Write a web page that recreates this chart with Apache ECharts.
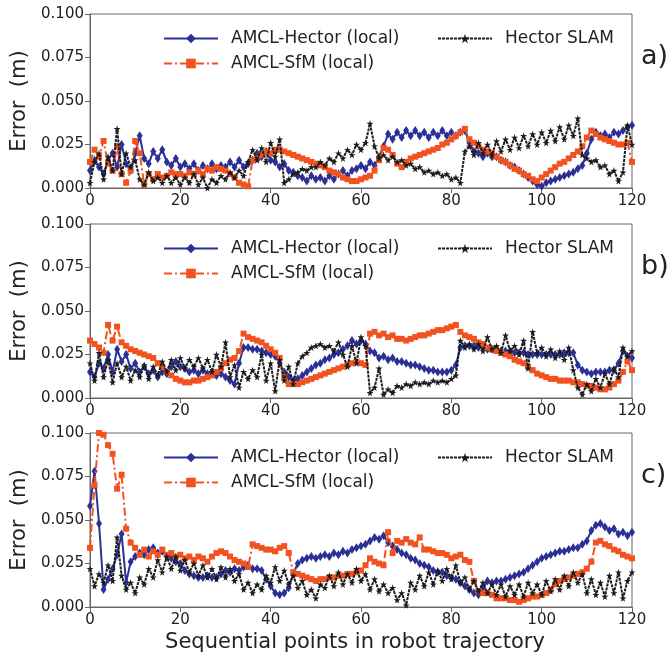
<!DOCTYPE html>
<html><head><meta charset="utf-8">
<script src="https://cdn.jsdelivr.net/npm/echarts@6/dist/echarts.min.js"></script>
<style>html,body{margin:0;padding:0;background:#fff}#c{width:670px;height:657px}</style>
</head><body><div id="c"></div>
<script>
// ---- data (x = sequential point index 0..120) ----
const seriesNames = ['AMCL-Hector (local)', 'AMCL-SfM (local)', 'Hector SLAM'];
const panelLabels = ['a)', 'b)', 'c)'];
const xTicks = [0, 20, 40, 60, 80, 100, 120];
const yTicks = [0.000, 0.025, 0.050, 0.075, 0.100];

const blueA = [0.010,0.016,0.012,0.008,0.016,0.020,0.012,0.025,0.014,0.010,0.020,0.030,0.017,0.014,0.021,0.017,0.022,0.015,0.013,0.017,
0.012,0.014,0.011,0.014,0.010,0.013,0.011,0.014,0.011,0.013,0.012,0.015,0.012,0.016,0.012,0.014,0.016,0.020,0.018,0.021,
0.016,0.015,0.012,0.014,0.010,0.009,0.007,0.006,0.004,0.007,0.005,0.006,0.004,0.007,0.005,0.008,0.010,0.007,0.010,0.011,
0.013,0.011,0.015,0.013,0.018,0.024,0.031,0.028,0.032,0.029,0.033,0.030,0.033,0.030,0.032,0.029,0.032,0.030,0.033,0.030,
0.032,0.030,0.032,0.033,0.026,0.021,0.020,0.018,0.020,0.018,0.018,0.016,0.015,0.013,0.012,0.010,0.008,0.006,0.004,0.002,
0.001,0.003,0.004,0.005,0.006,0.007,0.008,0.009,0.011,0.013,0.020,0.028,0.032,0.030,0.031,0.029,0.032,0.031,0.033,0.035,0.036];
const sfmA = [0.015,0.022,0.018,0.027,0.014,0.010,0.024,0.008,0.003,0.010,0.027,0.020,0.002,0.008,0.005,0.008,0.006,0.007,0.009,0.008,
0.008,0.007,0.009,0.008,0.010,0.008,0.011,0.010,0.012,0.011,0.010,0.008,0.006,0.003,0.002,0.001,0.016,0.017,0.019,0.021,
0.020,0.022,0.022,0.021,0.020,0.019,0.018,0.017,0.016,0.015,0.014,0.013,0.012,0.010,0.009,0.008,0.006,0.005,0.004,0.004,
0.005,0.006,0.007,0.010,0.016,0.023,0.022,0.019,0.014,0.012,0.015,0.017,0.018,0.019,0.020,0.021,0.022,0.023,0.025,0.026,
0.028,0.030,0.032,0.034,0.028,0.026,0.024,0.022,0.021,0.020,0.018,0.016,0.015,0.013,0.011,0.010,0.008,0.007,0.005,0.004,
0.006,0.008,0.010,0.012,0.014,0.015,0.017,0.019,0.021,0.024,0.029,0.033,0.031,0.029,0.028,0.027,0.026,0.025,0.025,0.026,0.015];
const slamA = [0.003,0.015,0.020,0.005,0.018,0.010,0.034,0.008,0.020,0.012,0.016,0.005,0.002,0.009,0.004,0.006,0.003,0.007,0.003,0.006,
0.002,0.006,0.003,0.008,0.002,0.006,0.000,0.005,0.003,0.007,0.005,0.009,0.006,0.010,0.007,0.015,0.022,0.016,0.023,0.015,
0.026,0.018,0.028,0.003,0.005,0.008,0.009,0.011,0.010,0.012,0.012,0.015,0.013,0.017,0.015,0.020,0.017,0.022,0.019,0.025,
0.022,0.026,0.037,0.024,0.017,0.019,0.016,0.018,0.015,0.016,0.013,0.014,0.011,0.012,0.009,0.010,0.008,0.009,0.007,0.008,
0.005,0.006,0.003,0.021,0.024,0.019,0.026,0.020,0.025,0.019,0.027,0.021,0.028,0.022,0.029,0.023,0.030,0.024,0.031,0.025,
0.032,0.026,0.033,0.027,0.035,0.028,0.036,0.030,0.040,0.019,0.017,0.015,0.016,0.012,0.013,0.008,0.010,0.004,0.009,0.036,0.025];

const blueB = [0.015,0.012,0.020,0.017,0.025,0.015,0.028,0.021,0.025,0.017,0.020,0.015,0.018,0.014,0.016,0.012,0.015,0.014,0.018,0.021,
0.018,0.017,0.015,0.016,0.014,0.016,0.014,0.015,0.013,0.014,0.012,0.010,0.008,0.020,0.029,0.029,0.028,0.028,0.027,0.026,
0.025,0.024,0.020,0.015,0.012,0.010,0.011,0.013,0.015,0.017,0.019,0.020,0.022,0.023,0.025,0.026,0.028,0.030,0.033,0.031,
0.033,0.031,0.027,0.026,0.023,0.024,0.022,0.023,0.021,0.021,0.020,0.019,0.019,0.018,0.017,0.016,0.016,0.015,0.015,0.015,
0.016,0.019,0.029,0.030,0.030,0.030,0.029,0.029,0.028,0.028,0.028,0.027,0.027,0.027,0.026,0.026,0.026,0.025,0.025,0.025,
0.025,0.025,0.025,0.025,0.025,0.026,0.026,0.026,0.019,0.016,0.015,0.014,0.015,0.015,0.015,0.016,0.016,0.020,0.027,0.024,0.023];
const sfmB = [0.033,0.031,0.029,0.026,0.042,0.033,0.041,0.032,0.030,0.028,0.027,0.026,0.025,0.024,0.023,0.020,0.018,0.015,0.013,0.011,
0.010,0.009,0.009,0.010,0.010,0.011,0.012,0.013,0.015,0.017,0.020,0.022,0.023,0.027,0.037,0.035,0.034,0.033,0.032,0.030,
0.028,0.026,0.023,0.012,0.008,0.008,0.008,0.009,0.010,0.011,0.012,0.013,0.014,0.015,0.016,0.017,0.018,0.019,0.020,0.021,
0.020,0.019,0.037,0.038,0.036,0.037,0.035,0.036,0.034,0.034,0.033,0.034,0.035,0.036,0.036,0.037,0.038,0.039,0.039,0.040,
0.041,0.042,0.038,0.036,0.035,0.034,0.032,0.031,0.029,0.028,0.027,0.026,0.025,0.024,0.022,0.021,0.020,0.018,0.016,0.014,
0.013,0.012,0.011,0.011,0.010,0.010,0.010,0.009,0.009,0.008,0.007,0.007,0.006,0.005,0.005,0.006,0.008,0.010,0.015,0.021,0.016];
const slamB = [0.020,0.010,0.026,0.012,0.022,0.009,0.020,0.012,0.018,0.010,0.016,0.012,0.019,0.011,0.018,0.013,0.021,0.015,0.022,0.016,
0.023,0.017,0.022,0.018,0.023,0.017,0.022,0.015,0.025,0.018,0.032,0.012,0.019,0.006,0.015,0.011,0.016,0.012,0.025,0.010,
0.020,0.004,0.022,0.010,0.018,0.008,0.020,0.024,0.026,0.029,0.030,0.031,0.029,0.030,0.027,0.032,0.025,0.018,0.030,0.020,
0.035,0.030,0.003,0.006,0.017,0.002,0.005,0.003,0.007,0.006,0.008,0.007,0.009,0.008,0.009,0.008,0.010,0.009,0.010,0.009,
0.011,0.013,0.033,0.029,0.031,0.028,0.031,0.027,0.035,0.028,0.030,0.026,0.036,0.027,0.030,0.025,0.033,0.017,0.038,0.026,
0.029,0.024,0.028,0.023,0.027,0.022,0.029,0.016,0.006,0.002,0.008,0.004,0.011,0.006,0.014,0.008,0.017,0.012,0.029,0.024,0.027];

const blueC = [0.058,0.078,0.048,0.010,0.016,0.022,0.030,0.042,0.014,0.026,0.029,0.031,0.030,0.033,0.034,0.031,0.032,0.029,0.028,0.026,
0.025,0.021,0.019,0.018,0.017,0.017,0.018,0.017,0.017,0.019,0.021,0.020,0.022,0.021,0.023,0.024,0.022,0.022,0.021,0.016,
0.012,0.008,0.007,0.008,0.011,0.019,0.025,0.027,0.028,0.029,0.028,0.029,0.030,0.029,0.031,0.030,0.032,0.031,0.033,0.034,
0.035,0.036,0.038,0.040,0.039,0.041,0.037,0.035,0.033,0.031,0.030,0.028,0.027,0.025,0.024,0.023,0.021,0.020,0.020,0.018,
0.017,0.016,0.014,0.012,0.010,0.008,0.007,0.011,0.015,0.014,0.015,0.015,0.016,0.017,0.018,0.019,0.020,0.022,0.024,0.026,
0.028,0.029,0.030,0.031,0.032,0.032,0.033,0.034,0.034,0.036,0.038,0.044,0.047,0.048,0.046,0.044,0.045,0.042,0.043,0.041,0.043];
const sfmC = [0.034,0.070,0.100,0.099,0.093,0.088,0.068,0.076,0.045,0.037,0.034,0.030,0.033,0.029,0.032,0.030,0.033,0.030,0.031,0.029,
0.030,0.028,0.029,0.027,0.029,0.028,0.026,0.029,0.031,0.032,0.031,0.029,0.027,0.026,0.025,0.023,0.036,0.035,0.034,0.033,
0.033,0.032,0.034,0.035,0.031,0.020,0.019,0.018,0.017,0.016,0.015,0.016,0.016,0.017,0.017,0.018,0.018,0.019,0.019,0.020,
0.021,0.024,0.028,0.026,0.025,0.024,0.043,0.031,0.038,0.037,0.039,0.037,0.036,0.040,0.033,0.033,0.032,0.031,0.031,0.030,
0.028,0.029,0.030,0.027,0.026,0.015,0.009,0.008,0.008,0.007,0.005,0.005,0.005,0.004,0.004,0.003,0.004,0.005,0.006,0.006,
0.007,0.008,0.010,0.013,0.015,0.016,0.017,0.018,0.019,0.020,0.022,0.026,0.037,0.038,0.036,0.035,0.033,0.032,0.030,0.029,0.028];
const slamC = [0.022,0.012,0.019,0.014,0.024,0.015,0.040,0.018,0.010,0.014,0.008,0.017,0.013,0.022,0.017,0.027,0.020,0.029,0.022,0.029,
0.021,0.027,0.020,0.025,0.018,0.024,0.017,0.022,0.016,0.023,0.017,0.022,0.015,0.019,0.010,0.014,0.008,0.013,0.010,0.018,
0.014,0.023,0.015,0.021,0.013,0.018,0.011,0.015,0.007,0.010,0.005,0.013,0.011,0.018,0.012,0.020,0.013,0.019,0.014,0.022,
0.015,0.019,0.010,0.016,0.009,0.013,0.008,0.011,0.004,0.008,0.001,0.014,0.010,0.018,0.012,0.020,0.013,0.021,0.015,0.022,
0.016,0.024,0.014,0.017,0.010,0.015,0.009,0.014,0.008,0.013,0.007,0.013,0.006,0.012,0.007,0.013,0.006,0.014,0.008,0.013,
0.007,0.015,0.009,0.016,0.010,0.018,0.012,0.020,0.014,0.019,0.008,0.016,0.007,0.014,0.006,0.018,0.008,0.020,0.005,0.015,0.020];

const panels = [[blueA, sfmA, slamA], [blueB, sfmB, slamB], [blueC, sfmC, slamC]];

// ---- styles ----
const FONT = 'DejaVu Sans';
const colors = ['#2b3096', '#f2521f', '#1c1c1c'];
const STAR = 'path://M50,0 L61,35 L98,35 L68,57 L79,91 L50,70 L21,91 L32,57 L2,35 L39,35 Z';
const symbols = ['diamond', 'rect', STAR];
const symSizes = [[6, 9], 6, 7];
const lineTypes = ['solid', [8, 3, 2, 3], [3, 1]];
const lineWidths = [2, 2, 2];

const grids = [], xAxes = [], yAxes = [], series = [], legends = [], graphics = [];
const tops = [14, 224, 433];
const H = 174;
for (let p = 0; p < 3; p++) {
  grids.push({left: 90, width: 542, top: tops[p], height: H, show: true, borderColor: '#666', borderWidth: 1, backgroundColor: 'transparent'});
  xAxes.push({
    type: 'value', gridIndex: p, min: xTicks[0], max: xTicks[xTicks.length - 1], interval: 20,
    axisLine: {show: true, onZero: false, lineStyle: {color: '#666', width: 1}},
    axisTick: {show: true, length: 5, lineStyle: {color: '#666'}},
    axisLabel: {color: '#222', fontSize: 15, fontFamily: FONT, margin: 6},
    splitLine: {show: false}
  });
  yAxes.push({
    type: 'value', gridIndex: p, min: yTicks[0], max: yTicks[yTicks.length - 1], interval: 0.025,
    axisLine: {show: true, lineStyle: {color: '#666', width: 1}},
    axisTick: {show: true, length: 5, lineStyle: {color: '#666'}},
    axisLabel: {color: '#222', fontSize: 15, fontFamily: FONT, margin: 6, formatter: v => v.toFixed(3)},
    splitLine: {show: false},
    name: 'Error  (m)', nameLocation: 'middle', nameGap: 59,
    nameTextStyle: {color: '#222', fontSize: 21, fontFamily: FONT}
  });
  for (let s = 0; s < 3; s++) {
    series.push({
      type: 'line', name: seriesNames[s], xAxisIndex: p, yAxisIndex: p,
      data: panels[p][s].map((v, i) => [i, v]),
      symbol: symbols[s], symbolSize: symSizes[s], showSymbol: true,
      itemStyle: {color: colors[s]},
      lineStyle: {color: colors[s], width: lineWidths[s], type: lineTypes[s]},
      z: 2 + s, animation: false, clip: true
    });
  }
  const legendCommon = {
    orient: 'vertical', itemWidth: 54, itemHeight: 12, itemGap: 8, padding: 0,
    textStyle: {color: '#222', fontSize: 17, fontFamily: FONT, lineHeight: 17, padding: [0, 0, 0, 8]},
    selectedMode: false
  };
  legends.push(Object.assign({}, legendCommon, {left: 163, top: tops[p] + 16, data: [seriesNames[0], seriesNames[1]]}));
  legends.push(Object.assign({}, legendCommon, {left: 437, top: tops[p] + 16, data: [seriesNames[2]]}));
  graphics.push({type: 'text', left: 641, top: tops[p] + 29,
    style: {text: panelLabels[p], fill: '#222', font: '27px "DejaVu Sans"'}});
}
graphics.push({type: 'text', x: 355, y: 643,
  style: {text: 'Sequential points in robot trajectory', fill: '#222', font: '21px "DejaVu Sans"', align: 'center', verticalAlign: 'middle'}});

const chart = echarts.init(document.getElementById('c'), null, {renderer: 'canvas'});
chart.setOption({
  animation: false, backgroundColor: '#fff',
  grid: grids, xAxis: xAxes, yAxis: yAxes, series: series, legend: legends, graphic: graphics
});
</script></body></html>
